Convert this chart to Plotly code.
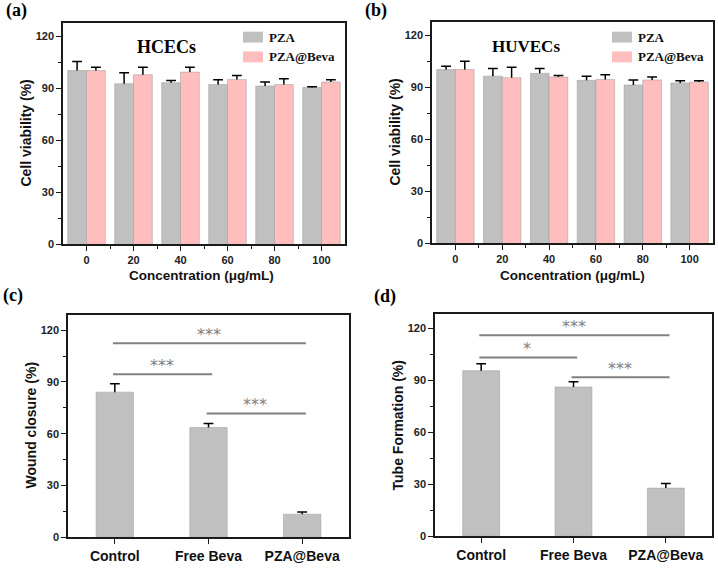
import plotly.graph_objects as go

W, H = 718, 569

# ---------------- data ----------------
conc_labels = ["0", "20", "40", "60", "80", "100"]
hcec_pza = [100.4, 92.8, 93.4, 92.3, 91.5, 90.6]
hcec_pza_err = [5.2, 6.3, 1.3, 2.8, 2.3, 0.4]
hcec_beva = [100.4, 98.0, 99.5, 95.3, 92.3, 93.8]
hcec_beva_err = [1.9, 4.3, 2.8, 2.3, 3.4, 1.3]

huvec_pza = [100.4, 96.6, 98.2, 94.2, 91.5, 92.7]
huvec_pza_err = [1.9, 4.4, 2.8, 2.3, 2.9, 1.3]
huvec_beva = [100.4, 95.7, 96.1, 94.7, 94.4, 93.2]
huvec_beva_err = [4.8, 6.1, 0.8, 2.7, 1.7, 0.8]

groups = ["Control", "Free Beva", "PZA@Beva"]
wound = [84.1, 63.6, 13.4]
wound_err = [4.9, 2.3, 1.3]
tube = [95.5, 86.1, 27.8]
tube_err = [4.0, 3.1, 2.6]

wound_sig_pairs = [(0, 2), (0, 1), (1, 2)]
wound_sig_level = [112.4, 94.4, 71.7]
wound_sig_text = ["***", "***", "***"]
tube_sig_pairs = [(0, 2), (0, 1), (1, 2)]
tube_sig_level = [116.0, 103.1, 91.7]
tube_sig_text = ["***", "*", "***"]

series_names = ["PZA", "PZA@Beva"]

# ---------------- style ----------------
GRAY = "#C0C0C0"
PINK = "#FFBDBD"
EDGE = "#9a9a9a"
INK = "#1a1a1a"
SIG = "#808080"
SANS = "Liberation Sans"
SERIF = "Liberation Serif"


def px(x):
    return x / W


def py(y):
    return 1 - y / H


fig = go.Figure()

# panel boxes in pixels: (left, right, top, bottom)
boxes = {
    "a": (63, 345, 23, 247),
    "b": (432, 713, 22, 246),
    "c": (68, 349, 318, 543),
    "d": (435, 712, 317, 542),
}
axis_ids = {"a": ("x", "y"), "b": ("x2", "y2"), "c": ("x3", "y3"), "d": ("x4", "y4")}
yranges = {"a": [0, 128], "b": [0, 128], "c": [0, 129], "d": [0, 128.4]}


def add_bar(xa, ya, xs, vals, errs, color, offset, width):
    fig.add_trace(go.Bar(
        x=xs, y=vals, width=width, offset=offset,
        marker=dict(color=color, line=dict(color=EDGE, width=0.5)),
        error_y=dict(type="data", symmetric=False, array=errs,
                     arrayminus=[0] * len(errs), width=0, thickness=1.5, color="black"),
        xaxis=xa, yaxis=ya, showlegend=False, hoverinfo="y",
    ))
    centers = [x + offset + width / 2 for x in xs]
    fig.add_trace(go.Scatter(
        x=centers, y=[v + e for v, e in zip(vals, errs)], mode="markers",
        marker=dict(symbol="line-ew", size=7, color="black",
                    line=dict(width=1.5, color="black")),
        xaxis=xa, yaxis=ya, showlegend=False, hoverinfo="skip",
    ))


idx6 = list(range(len(conc_labels)))
idx3 = list(range(len(groups)))

add_bar("x", "y", idx6, hcec_pza, hcec_pza_err, GRAY, -0.4, 0.4)
add_bar("x", "y", idx6, hcec_beva, hcec_beva_err, PINK, 0.0, 0.4)
add_bar("x2", "y2", idx6, huvec_pza, huvec_pza_err, GRAY, -0.4, 0.4)
add_bar("x2", "y2", idx6, huvec_beva, huvec_beva_err, PINK, 0.0, 0.4)
add_bar("x3", "y3", idx3, wound, wound_err, GRAY, -0.2, 0.4)
add_bar("x4", "y4", idx3, tube, tube_err, GRAY, -0.2, 0.4)

base_axis = dict(
    showline=True, linecolor=INK, linewidth=1.5, mirror=True,
    ticks="outside", ticklen=5, tickwidth=1.3, tickcolor=INK,
    showgrid=False, zeroline=False, fixedrange=True,
)

layout = dict(
    width=W, height=H, margin=dict(l=0, r=0, t=0, b=0),
    paper_bgcolor="white", plot_bgcolor="white", barmode="overlay",
    showlegend=False,
)

for key, (l, r, t, b) in boxes.items():
    xid, yid = axis_ids[key]
    xname = "xaxis" + xid[1:]
    yname = "yaxis" + yid[1:]
    if key in ("a", "b"):
        xa = dict(base_axis, domain=[px(l), px(r)], anchor=yid, range=[-0.5, 5.5],
                  tickmode="array", tickvals=idx6, ticktext=conc_labels,
                  tickfont=dict(family=SANS, size=11, color="#222", weight="bold"),
                  minor=dict(tickvals=[i + 0.5 for i in idx6[:-1]], ticklen=3,
                             tickwidth=1, tickcolor=INK, ticks="outside", showgrid=False))
    else:
        xa = dict(base_axis, domain=[px(l), px(r)], anchor=yid, range=[-0.5, 2.5],
                  tickmode="array", tickvals=idx3, ticktext=groups,
                  tickfont=dict(family=SANS, size=14, color="#111", weight="bold"))
    ya = dict(base_axis, domain=[py(b), py(t)], anchor=xid, range=yranges[key],
              tickmode="array", tickvals=[0, 30, 60, 90, 120],
              tickfont=dict(family=SANS, size=11, color="#222", weight="bold"),
              minor=dict(tickvals=[15, 45, 75, 105], ticklen=3, tickwidth=1,
                         tickcolor=INK, ticks="outside", showgrid=False))
    layout[xname] = xa
    layout[yname] = ya

fig.update_layout(**layout)

annotations = []
shapes = []

# panel letters
for txt, x, y in [("(a)", 16, 11), ("(b)", 376, 11), ("(c)", 13, 299), ("(d)", 385, 300)]:
    annotations.append(dict(text=txt, x=px(x), y=py(y), xref="paper", yref="paper",
                            showarrow=False, xanchor="center", yanchor="middle",
                            font=dict(family=SERIF, size=18, color="black", weight="bold")))

# cell-line titles
for txt, x, y, s in [("HCECs", 166, 47, 18), ("HUVECs", 526, 47, 17)]:
    annotations.append(dict(text=txt, x=px(x), y=py(y), xref="paper", yref="paper",
                            showarrow=False, xanchor="center", yanchor="middle",
                            font=dict(family=SERIF, size=s, color="black", weight="bold")))

# y titles
for txt, x, y in [("Cell viability (%)", 26, 135), ("Cell viability (%)", 395, 134),
                  ("Wound closure (%)", 31, 430), ("Tube Formation (%)", 398, 430)]:
    annotations.append(dict(text=txt, x=px(x), y=py(y), xref="paper", yref="paper",
                            showarrow=False, xanchor="center", yanchor="middle", textangle=-90,
                            font=dict(family=SANS, size=14, color="#111", weight="bold")))

# x titles
for x in (201, 572):
    annotations.append(dict(text="Concentration (\u03bcg/mL)", x=px(x), y=py(278),
                            xref="paper", yref="paper", showarrow=False,
                            xanchor="center", yanchor="middle",
                            font=dict(family=SANS, size=13.5, color="#111", weight="bold")))

# custom legends
for lx in (243, 612):
    for j, (name, col) in enumerate(zip(series_names, [GRAY, PINK])):
        yc = 37.5 + 20 * j
        shapes.append(dict(type="rect", xref="paper", yref="paper",
                           x0=px(lx), x1=px(lx + 20), y0=py(yc + 5.5), y1=py(yc - 5.5),
                           fillcolor=col, line=dict(width=0)))
        annotations.append(dict(text=name, x=px(lx + 24), y=py(yc), xref="paper", yref="paper",
                                showarrow=False, xanchor="left", yanchor="middle",
                                font=dict(family=SERIF, size=13, color="#111", weight="bold")))

# significance brackets
for (xr, yr), pairs, levels, texts in [(("x3", "y3"), wound_sig_pairs, wound_sig_level, wound_sig_text),
                                       (("x4", "y4"), tube_sig_pairs, tube_sig_level, tube_sig_text)]:
    for (a, b), lvl, t in zip(pairs, levels, texts):
        shapes.append(dict(type="line", xref=xr, yref=yr, x0=a - 0.02, x1=b + 0.04,
                           y0=lvl, y1=lvl, line=dict(color=SIG, width=2)))
        annotations.append(dict(text=t, x=(a + b) / 2, y=lvl, xref=xr, yref=yr,
                                showarrow=False, xanchor="center", yanchor="middle", yshift=9,
                                font=dict(family="DejaVu Sans", size=16, color=SIG)))

fig.update_layout(annotations=annotations, shapes=shapes)

fig.write_html("out.html")
